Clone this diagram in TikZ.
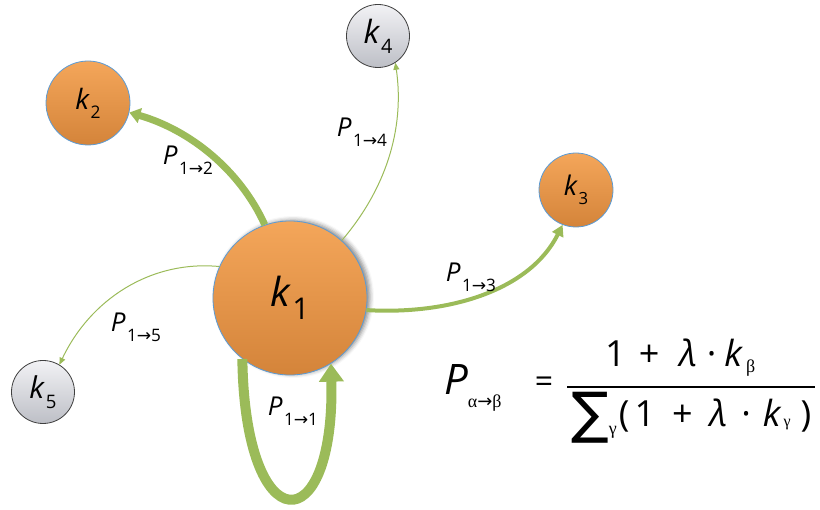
\documentclass[tikz,border=0pt]{standalone}
\usepackage{fontspec}
\usepackage{graphicx}
\setmainfont{Open Sans}
\newfontfamily\grkfont{Liberation Serif}
\newfontfamily\symfont{DejaVu Sans}
\usetikzlibrary{arrows.meta}
\usetikzlibrary{shadows.blur}

\definecolor{flowgreen}{HTML}{9BBB59}
\definecolor{hubtop}{HTML}{F4A65A}
\definecolor{hubbottom}{HTML}{D4843A}
\definecolor{hubrim}{HTML}{5B9BD5}
\definecolor{leaftop}{HTML}{F2F2F5}
\definecolor{leafbottom}{HTML}{BDBFC6}

\newcommand{\kvar}[2][0.62]{\textit{k}\kern0.03em\raisebox{-0.32em}{\scalebox{#1}{#2}}}
\newcommand{\pvar}[1]{\textit{P}\kern0.05em\raisebox{-0.38em}{\scalebox{0.66}{1{\symfont →}#1}}}

\begin{document}
\begin{tikzpicture}[x=1pt, y=-1pt,
            hub/.style={circle, draw=hubrim, line width=.8pt, inner sep=0pt,
                top color=hubtop, bottom color=hubbottom},
            leaf/.style={circle, draw=black!75, line width=.8pt, inner sep=0pt,
                top color=leaftop, bottom color=leafbottom},
            heavy/.style={draw=flowgreen, line width=7pt, -{Triangle[width=15pt, length=11pt]}},
            medium/.style={draw=flowgreen, line width=4pt, -{Triangle[width=12pt, length=11pt]}},
            light/.style={draw=flowgreen, line width=1pt, -{Triangle[width=6pt, length=7pt]}},
            selfloop/.style={draw=flowgreen, line width=10pt, -{Triangle[width=24pt, length=18pt]}},
            prob/.style={inner sep=0pt, font=\fontsize{26}{26}\selectfont},
        ]
            \useasboundingbox (0, 0) rectangle (820, 510);
            \node[hub, minimum size=154pt, font=\fontsize{40}{40}\selectfont,
                blur shadow={shadow xshift=3pt, shadow yshift=1pt, shadow blur radius=4pt, shadow opacity=45}]
                (k1) at (290, 298) {\kvar[0.75]{1}};
            \node[hub, minimum size=84pt, font=\fontsize{28}{28}\selectfont] (k2) at (88, 103) {\kvar{2}};
            \node[hub, minimum size=74pt, font=\fontsize{27}{27}\selectfont] (k3) at (576, 190) {\kvar{3}};
            \node[leaf, minimum size=63pt, font=\fontsize{32}{32}\selectfont] (k4) at (378, 36) {\kvar{4}};
            \node[leaf, minimum size=63pt, font=\fontsize{30}{30}\selectfont] (k5) at (43, 392) {\kvar{5}};

            \draw[heavy] (k1.109) .. controls (240, 170) and (190, 130) .. (k2.-13);
            \draw[light] (k1.48) .. controls (385, 190) and (405, 130) .. (k4.-57);
            \draw[medium] (k1.-9) .. controls (450, 315) and (530, 290) .. (k3.-111);
            \draw[light] (k1.156) .. controls (150, 260) and (90, 300) .. (k5.59);
            \draw[selfloop] (k1.232) .. controls (245, 543) and (335, 543) .. (k1.-58);

            \node[prob] (p12) at (188, 160) {\pvar{2}};
            \node[prob] (p14) at (362, 132) {\pvar{4}};
            \node[prob] (p13) at (471, 277) {\pvar{3}};
            \node[prob] (p15) at (136, 327) {\pvar{5}};
            \node[prob] (p11) at (293, 411) {\pvar{1}};

            \node[inner sep=0pt, anchor=base west, font=\fontsize{42}{42}\selectfont] (lhs) at (444, 395)
                {\textit{P}\raisebox{-13pt}{\grkfont\fontsize{18}{18}\selectfont α{\symfont →}β}};
            \node[inner sep=0pt, font=\fontsize{32}{32}\selectfont] (eq) at (544, 385) {=};
            \node[inner sep=0pt, anchor=base west, font=\fontsize{36}{36}\selectfont] (num) at (605, 367)
                {1\hspace{13pt}+\hspace{20pt}\textit{λ}\hspace{10pt}·\hspace{8pt}\textit{k}\kern3pt\raisebox{-6pt}{\grkfont\fontsize{18}{18}\selectfont β}};
            \node[inner sep=0pt, anchor=base west, font=\fontsize{36}{36}\selectfont] (den) at (571, 427)
                {\raisebox{-6pt}{\symfont\fontsize{56}{56}\selectfont ∑}\raisebox{-8pt}{\grkfont\fontsize{18}{18}\selectfont γ}\hspace{2pt}{\fontsize{36}{36}\selectfont (}\hspace{5pt}1\hspace{17pt}+\hspace{17pt}\textit{λ}\hspace{14pt}·\hspace{12pt}\textit{k}\kern2pt{\grkfont\fontsize{16}{16}\selectfont γ}\hspace{10pt}{\fontsize{36}{36}\selectfont )}};
            \coordinate (barl) at (567, 387);
            \coordinate (barr) at (815, 387);
            \draw[line width=1.6pt] (barl) -- (barr);
        \end{tikzpicture}
\end{document}
